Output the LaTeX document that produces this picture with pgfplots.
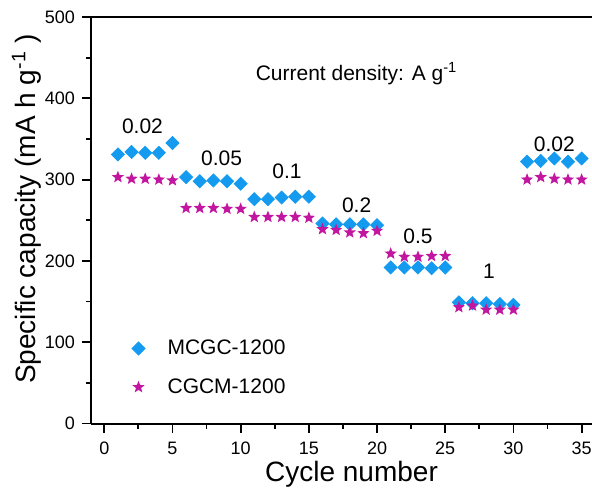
\documentclass[border=0pt]{standalone}
\usepackage{pgfplots}
\pgfplotsset{compat=1.18}
\usepackage{fontspec}
\setmainfont{Liberation Sans}
\definecolor{cblue}{RGB}{20,155,240}
\definecolor{cmag}{RGB}{195,22,160}
\pgfdeclareplotmark{fivestar}{%
  \pgfpathmoveto{\pgfqpointpolar{90}{\pgfplotmarksize}}%
  \pgfpathlineto{\pgfqpointpolar{126}{0.43\pgfplotmarksize}}%
  \pgfpathlineto{\pgfqpointpolar{162}{\pgfplotmarksize}}%
  \pgfpathlineto{\pgfqpointpolar{198}{0.43\pgfplotmarksize}}%
  \pgfpathlineto{\pgfqpointpolar{234}{\pgfplotmarksize}}%
  \pgfpathlineto{\pgfqpointpolar{270}{0.43\pgfplotmarksize}}%
  \pgfpathlineto{\pgfqpointpolar{306}{\pgfplotmarksize}}%
  \pgfpathlineto{\pgfqpointpolar{342}{0.43\pgfplotmarksize}}%
  \pgfpathlineto{\pgfqpointpolar{18}{\pgfplotmarksize}}%
  \pgfpathlineto{\pgfqpointpolar{54}{0.43\pgfplotmarksize}}%
  \pgfpathclose
  \pgfusepathqfill
}
\begin{document}
\begin{tikzpicture}
\begin{axis}[name=ax, scale only axis, width=250.5pt, height=203.3pt,
  xmin=-0.975, xmax=35.76, ymin=0, ymax=500,
  axis x line*=box, axis y line*=left,
  xtick pos=bottom, ytick pos=left,
  xtick={0,5,...,35}, ytick={0,100,...,500},
  minor x tick num=1, minor y tick num=1,
  tick align=outside,
  major tick length=4.5pt, minor tick length=2.5pt,
  axis line style={line width=1pt},
  every tick/.style={line width=0.9pt, black},
  /pgf/number format/assume math mode=true,
  tick label style={font=\fontsize{9}{10}\selectfont},
  xticklabel style={yshift=-1pt},
  xlabel={Cycle number},
  ylabel={Specific capacity (mA h g\textsuperscript{-1} )},
  xlabel style={font=\fontsize{14}{16}\selectfont, at={(axis description cs:0.52,-0.125)}, anchor=center},
  ylabel style={font=\fontsize{14}{16}\selectfont, at={(axis description cs:-0.128,0.528)}, anchor=center},
  legend style={at={(axis description cs:0.048,0.227)}, anchor=north west, draw=none, fill=none,
    font=\fontsize{10.5}{12}\selectfont, row sep=6.5pt},
  legend cell align=left,
  legend image code/.code={\draw[#1] plot coordinates {(0.3cm,0cm)}; \path[draw=none,fill=none] (0cm,0cm) -- (0.6cm+4pt,0cm);},
  clip=false,
]
\addplot[only marks, mark=square*, mark size=2.3pt, mark options={rotate=45, fill=cblue, draw=none}, color=cblue]
coordinates {
(1,331)(2,334)(3,333)(4,333)(5,345)
(6,303)(7,298)(8,299)(9,298)(10,295)
(11,276)(12,276)(13,278)(14,279)(15,279)
(16,246)(17,245)(18,245)(19,245)(20,244)
(21,192)(22,192)(23,192)(24,191)(25,192)
(26,149)(27,148)(28,148)(29,147)(30,146)
(31,322)(32,323)(33,326)(34,322)(35,326)
};
\addlegendentry{MCGC-1200}
\addplot[only marks, mark=fivestar, mark size=3.2pt, mark options={fill=cmag, draw=none}, color=cmag]
coordinates {
(1,303)(2,301)(3,301)(4,300)(5,299)
(6,265)(7,265)(8,265)(9,264)(10,264)
(11,254)(12,254)(13,254)(14,254)(15,253)
(16,239)(17,238)(18,235)(19,234)(20,237)
(21,209)(22,205)(23,205)(24,206)(25,206)
(26,143)(27,145)(28,140)(29,140)(30,140)
(31,300)(32,303)(33,301)(34,300)(35,300)
};
\addlegendentry{CGCM-1200}
\node[font=\fontsize{10.5}{12}\selectfont] at (axis cs:2.8,365) {0.02};
\node[font=\fontsize{10.5}{12}\selectfont] at (axis cs:8.6,326) {0.05};
\node[font=\fontsize{10.5}{12}\selectfont] at (axis cs:13.4,310) {0.1};
\node[font=\fontsize{10.5}{12}\selectfont] at (axis cs:18.5,269) {0.2};
\node[font=\fontsize{10.5}{12}\selectfont] at (axis cs:23.0,230) {0.5};
\node[font=\fontsize{10.5}{12}\selectfont] at (axis cs:28.2,187) {1};
\node[font=\fontsize{10.5}{12}\selectfont] at (axis cs:33.0,343) {0.02};
\node[font=\fontsize{10.5}{12}\selectfont] at (axis cs:18.5,430) {Current density: A g\textsuperscript{-1}};
\end{axis}
\pgfresetboundingbox
\path[use as bounding box] ([xshift=-45.5pt,yshift=-32pt]ax.south west) rectangle ([yshift=8.5pt]ax.north east);
\end{tikzpicture}
\end{document}
